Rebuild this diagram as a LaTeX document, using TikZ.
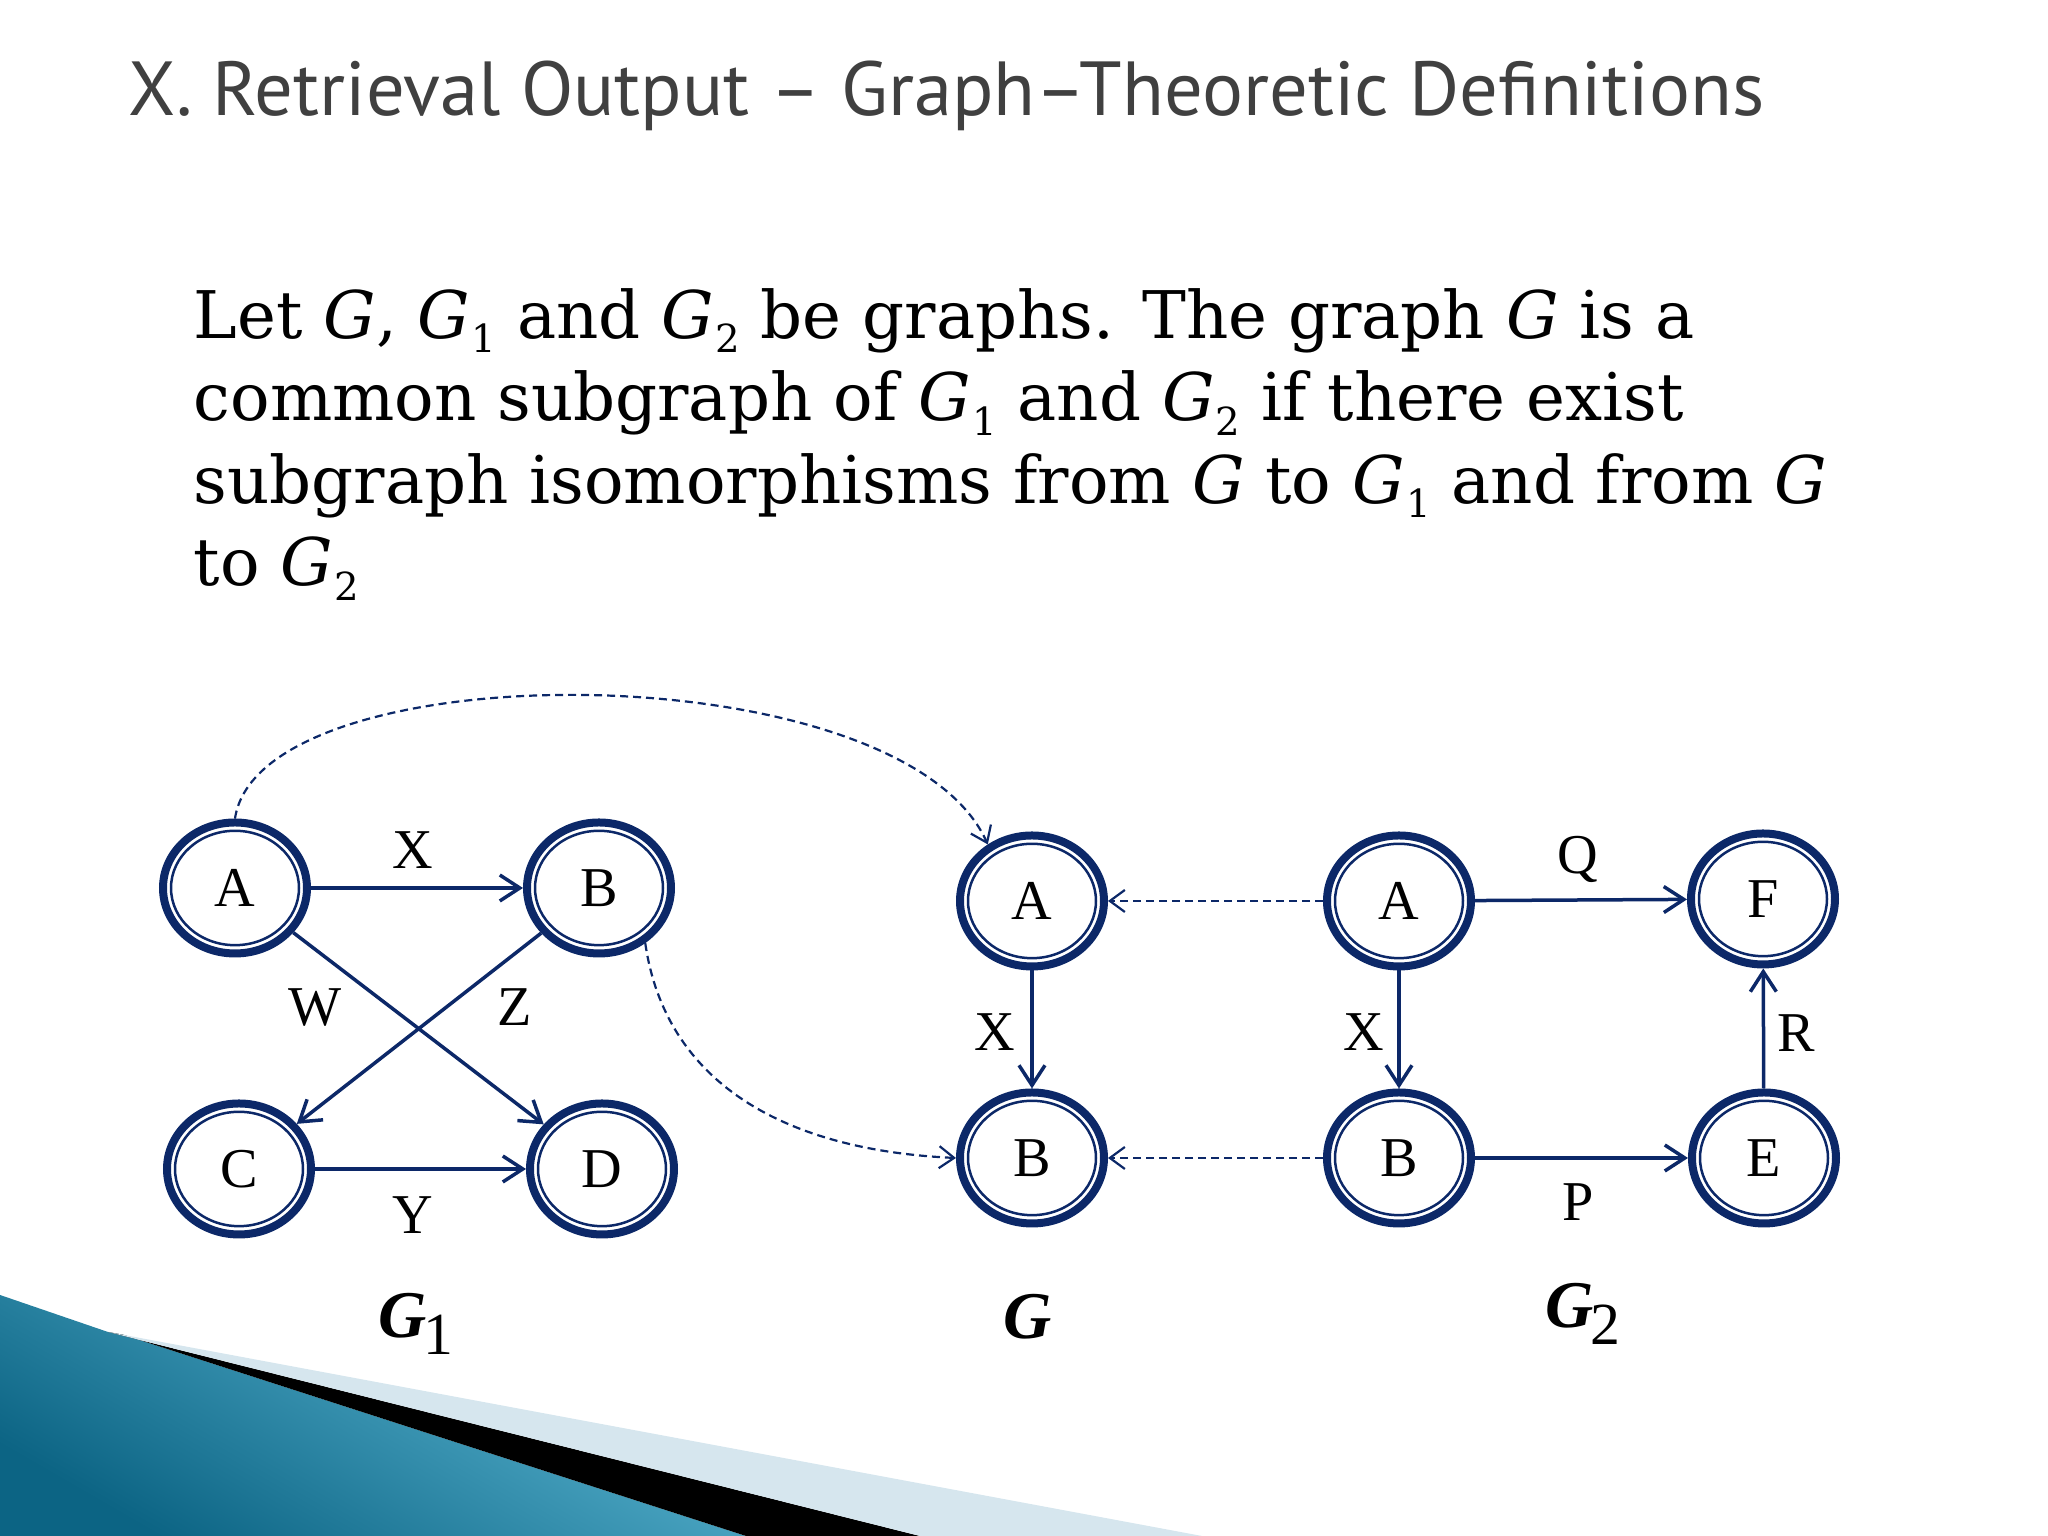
\documentclass[tikz,border=0pt]{standalone}
\usepackage{fontspec}
\setmainfont{Liberation Serif}
\newfontfamily\textofont{DejaVu Serif}
\newfontfamily\titulofont{PT Sans}
\usepackage{xcolor}
\usepackage{tikz}
\usetikzlibrary{positioning, shapes.geometric, arrows.meta}

\definecolor{azul}{RGB}{12,40,104}
\definecolor{gristitulo}{RGB}{64,64,64}
\definecolor{tealosc}{RGB}{12,100,132}
\definecolor{tealcla}{RGB}{96,188,216}
\definecolor{celeste}{RGB}{214,230,238}

\newcommand{\Gsub}[1]{\textit{G}\kern0.02em\raisebox{-0.22em}{\fontsize{11}{11}\selectfont #1}}
\newcommand{\Gnom}[1]{\textbf{\textit{G}}\kern-0.04em\raisebox{-0.17cm}{\fontsize{17}{17}\selectfont #1}}

\tikzset{
  vtx/.style={ellipse, draw=azul, line width=0.8mm, minimum width=1.44cm, minimum height=1.31cm, inner sep=0pt, font=\fontsize{16}{16}\selectfont,
    path picture={\draw[azul, line width=0.25mm] (path picture bounding box.center) ellipse [x radius=0.64cm, y radius=0.572cm];}},
  arista/.style={draw=azul, line width=0.35mm, -{Straight Barb[length=2mm, width=2.6mm]}},
  mapeo/.style={draw=azul, line width=0.22mm, dash pattern=on 0.8mm off 0.5mm, -{Straight Barb[length=1.5mm, width=2.2mm]}},
  etiq/.style={font=\fontsize{16}{16}\selectfont, inner sep=0pt},
  nombre/.style={font=\fontsize{19}{19}\selectfont, anchor=base, inner sep=0pt}
}

\begin{document}
\begin{tikzpicture}
        \useasboundingbox (0,0) rectangle (20.48,15.36);

        % Decoracion de la esquina
        \shade[left color=tealosc, right color=tealcla, shading angle=150] (0,2.41) -- (1.08,2.04) -- (1.24,2.01) -- (7.46,0) -- (0,0) -- cycle;
        \fill[black] (1.08,2.04) -- (9.20,0) -- (7.46,0) -- (1.24,2.01) -- cycle;
        \fill[celeste] (1.08,2.04) -- (12.02,0) -- (9.20,0) -- cycle;

        % Titulo y texto
        \node[anchor=base west, inner sep=0pt, text=gristitulo, font=\titulofont\fontsize{21.8}{21.8}\selectfont] (titulo) at (1.28,14.20) {X. Retrieval Output \textendash{} Graph\textendash Theoretic Definitions};
        \node[anchor=base west, inner sep=0pt, align=left, font=\textofont\fontsize{18.7}{23.5}\selectfont] (texto) at (1.93,9.50) {Let \textit{G}, \Gsub{1} and \Gsub{2} be graphs. The graph \textit{G} is a\\ common subgraph of \Gsub{1} and \Gsub{2} if there exist\\ subgraph isomorphisms from \textit{G} to \Gsub{1} and from \textit{G}\\ to \Gsub{2}};

        % Grafo G1
        \node[vtx] (g1a) at (2.35,6.48) {A};
        \node[vtx] (g1b) at (5.99,6.48) {B};
        \node[vtx] (g1c) at (2.39,3.67) {C};
        \node[vtx] (g1d) at (6.02,3.67) {D};
        \draw[arista] (g1a) -- (g1b);
        \draw[arista] (g1a) -- (g1d);
        \draw[arista] (g1b) -- (g1c);
        \draw[arista] (g1c) -- (g1d);
        \node[etiq] (lx1) at (4.13,6.86) {X};
        \node[etiq] (lw1) at (3.15,5.28) {W};
        \node[etiq] (lz1) at (5.15,5.29) {Z};
        \node[etiq] (ly1) at (4.13,3.21) {Y};

        % Grafo G
        \node[vtx] (ga) at (10.32,6.35) {A};
        \node[vtx] (gb) at (10.32,3.78) {B};
        \draw[arista] (ga) -- (gb);
        \node[etiq] (lxg) at (9.95,5.04) {X};

        % Grafo G2
        \node[vtx] (g2a) at (13.99,6.35) {A};
        \node[vtx] (g2b) at (13.99,3.78) {B};
        \node[vtx] (g2f) at (17.63,6.37) {F};
        \node[vtx] (g2e) at (17.64,3.78) {E};
        \draw[arista] (g2a) -- (g2b);
        \draw[arista] (g2a) -- (g2f);
        \draw[arista] (g2b) -- (g2e);
        \draw[arista] (g2e) -- (g2f);
        \node[etiq] (lx2) at (13.64,5.04) {X};
        \node[etiq] (lq2) at (15.78,6.77) {Q};
        \node[etiq] (lr2) at (17.96,5.03) {R};
        \node[etiq] (lp2) at (15.78,3.34) {P};

        % Isomorfismos
        \draw[mapeo] (g1a.north) .. controls (2.60,8.86) and (9.00,8.86) .. (ga.128);
        \draw[mapeo] (g1b.-50) .. controls (6.65,4.56) and (7.80,3.86) .. (gb.west);
        \draw[mapeo] (g2a) -- (ga);
        \draw[mapeo] (g2b) -- (gb);

        % Nombres
        \node[nombre] (n1) at (4.16,1.98) {\Gnom{1}};
        \node[nombre] (n0) at (10.28,1.97) {\textbf{\textit{G}}};
        \node[nombre] (n2) at (15.83,2.08) {\Gnom{2}};
\end{tikzpicture}
\end{document}
